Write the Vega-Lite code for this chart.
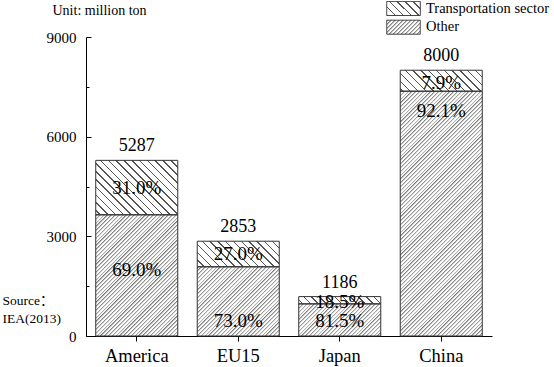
{
"$schema":"https://vega.github.io/schema/vega-lite/v6.json",
"width":406,"height":299,
"autosize":{"type":"none"},
"padding":{"left":86,"top":37,"right":62,"bottom":31},
"background":"white",
"config":{"view":{"stroke":null},"axis":{"grid":false,"labelFont":"Liberation Serif","titleFont":"Liberation Serif"},"legend":{"labelFont":"Liberation Serif"}},
"data":{"values":[
{"country":"America","sector":"Transportation sector","value":1639,"pct":"31.0%","labelValue":4461},
{"country":"America","sector":"Other","value":3648,"pct":"69.0%","labelValue":1978},
{"country":"EU15","sector":"Transportation sector","value":770,"pct":"27.0%","labelValue":2474},
{"country":"EU15","sector":"Other","value":2083,"pct":"73.0%","labelValue":442},
{"country":"Japan","sector":"Transportation sector","value":219,"pct":"18.5%","labelValue":1035},
{"country":"Japan","sector":"Other","value":967,"pct":"81.5%","labelValue":455},
{"country":"China","sector":"Transportation sector","value":632,"pct":"7.9%","labelValue":7622},
{"country":"China","sector":"Other","value":7368,"pct":"92.1%","labelValue":6779}
]},
"transform":[{"stack":"value","groupby":["country"],"sort":[{"field":"sector","order":"ascending"}],"as":["v0","v1"]}],
"encoding":{"x":{"field":"country","type":"nominal","sort":["America","EU15","Japan","China"],"scale":{"paddingInner":0.192,"paddingOuter":0.096},"axis":{"title":null,"labelAngle":0,"labelFont":"Liberation Serif","labelFontSize":18.5,"labelColor":"#000","labelPadding":5,"tickSize":5,"tickColor":"#000","domainColor":"#000","grid":false}}},
"layer":[
{"transform":[{"filter":"datum.sector === 'Transportation sector'"}],
"mark":{"type":"point","shape":"M-1,0H1V1.805H-1Z","size":6724,"filled":true,"opacity":1,"clip":true,
"fill":{"gradient":"linear","x1":0,"y1":1,"x2":1.0485,"y2":0.0537,"stops":[
{"offset":0,"color":"#555"},{"offset":0.01,"color":"#555"},{"offset":0.01,"color":"#fff"},{"offset":0.05,"color":"#fff"},
{"offset":0.05,"color":"#555"},{"offset":0.06,"color":"#555"},{"offset":0.06,"color":"#fff"},{"offset":0.1,"color":"#fff"},
{"offset":0.1,"color":"#555"},{"offset":0.11,"color":"#555"},{"offset":0.11,"color":"#fff"},{"offset":0.15,"color":"#fff"},
{"offset":0.15,"color":"#555"},{"offset":0.16,"color":"#555"},{"offset":0.16,"color":"#fff"},{"offset":0.2,"color":"#fff"},
{"offset":0.2,"color":"#555"},{"offset":0.21,"color":"#555"},{"offset":0.21,"color":"#fff"},{"offset":0.25,"color":"#fff"},
{"offset":0.25,"color":"#555"},{"offset":0.26,"color":"#555"},{"offset":0.26,"color":"#fff"},{"offset":0.3,"color":"#fff"},
{"offset":0.3,"color":"#555"},{"offset":0.31,"color":"#555"},{"offset":0.31,"color":"#fff"},{"offset":0.35,"color":"#fff"},
{"offset":0.35,"color":"#555"},{"offset":0.36,"color":"#555"},{"offset":0.36,"color":"#fff"},{"offset":0.4,"color":"#fff"},
{"offset":0.4,"color":"#555"},{"offset":0.41,"color":"#555"},{"offset":0.41,"color":"#fff"},{"offset":0.45,"color":"#fff"},
{"offset":0.45,"color":"#555"},{"offset":0.46,"color":"#555"},{"offset":0.46,"color":"#fff"},{"offset":0.5,"color":"#fff"},
{"offset":0.5,"color":"#555"},{"offset":0.51,"color":"#555"},{"offset":0.51,"color":"#fff"},{"offset":0.55,"color":"#fff"},
{"offset":0.55,"color":"#555"},{"offset":0.56,"color":"#555"},{"offset":0.56,"color":"#fff"},{"offset":0.6,"color":"#fff"},
{"offset":0.6,"color":"#555"},{"offset":0.61,"color":"#555"},{"offset":0.61,"color":"#fff"},{"offset":0.65,"color":"#fff"},
{"offset":0.65,"color":"#555"},{"offset":0.66,"color":"#555"},{"offset":0.66,"color":"#fff"},{"offset":0.7,"color":"#fff"},
{"offset":0.7,"color":"#555"},{"offset":0.71,"color":"#555"},{"offset":0.71,"color":"#fff"},{"offset":0.75,"color":"#fff"},
{"offset":0.75,"color":"#555"},{"offset":0.76,"color":"#555"},{"offset":0.76,"color":"#fff"},{"offset":0.8,"color":"#fff"},
{"offset":0.8,"color":"#555"},{"offset":0.81,"color":"#555"},{"offset":0.81,"color":"#fff"},{"offset":0.85,"color":"#fff"},
{"offset":0.85,"color":"#555"},{"offset":0.86,"color":"#555"},{"offset":0.86,"color":"#fff"},{"offset":0.9,"color":"#fff"},
{"offset":0.9,"color":"#555"},{"offset":0.91,"color":"#555"},{"offset":0.91,"color":"#fff"},{"offset":0.95,"color":"#fff"},
{"offset":0.95,"color":"#555"},{"offset":0.96,"color":"#555"},{"offset":0.96,"color":"#fff"},{"offset":1,"color":"#fff"}]}},
"encoding":{"y":{"field":"v1","type":"quantitative","scale":{"domain":[0,9000],"nice":false},
"axis":{"orient":"left","values":[1500,4500,7500],"tickSize":-3,"tickColor":"#000","labels":false,"domain":false,"grid":false,"title":"Unit: million ton","titleAngle":0,"titleAlign":"left","titleBaseline":"alphabetic","titleX":-34,"titleY":-22.5,"titleFont":"Liberation Serif","titleFontSize":14,"titleFontWeight":"normal","titleColor":"#000"}}}},
{"transform":[{"filter":"datum.sector === 'Other'"}],
"mark":{"type":"point","shape":"M-1,0H1V7.27H-1Z","size":6724,"filled":true,"opacity":1,"clip":true,
"fill":{"gradient":"linear","x1":0,"y1":0,"x2":0.3261,"y2":1.1854,"stops":[
{"offset":0,"color":"#777"},{"offset":0.006,"color":"#fff"},{"offset":0.01,"color":"#fff"},
{"offset":0.01,"color":"#777"},{"offset":0.016,"color":"#fff"},{"offset":0.02,"color":"#fff"},
{"offset":0.02,"color":"#777"},{"offset":0.026,"color":"#fff"},{"offset":0.03,"color":"#fff"},
{"offset":0.03,"color":"#777"},{"offset":0.036,"color":"#fff"},{"offset":0.04,"color":"#fff"},
{"offset":0.04,"color":"#777"},{"offset":0.046,"color":"#fff"},{"offset":0.05,"color":"#fff"},
{"offset":0.05,"color":"#777"},{"offset":0.056,"color":"#fff"},{"offset":0.06,"color":"#fff"},
{"offset":0.06,"color":"#777"},{"offset":0.066,"color":"#fff"},{"offset":0.07,"color":"#fff"},
{"offset":0.07,"color":"#777"},{"offset":0.076,"color":"#fff"},{"offset":0.08,"color":"#fff"},
{"offset":0.08,"color":"#777"},{"offset":0.086,"color":"#fff"},{"offset":0.09,"color":"#fff"},
{"offset":0.09,"color":"#777"},{"offset":0.096,"color":"#fff"},{"offset":0.1,"color":"#fff"},
{"offset":0.1,"color":"#777"},{"offset":0.106,"color":"#fff"},{"offset":0.11,"color":"#fff"},
{"offset":0.11,"color":"#777"},{"offset":0.116,"color":"#fff"},{"offset":0.12,"color":"#fff"},
{"offset":0.12,"color":"#777"},{"offset":0.126,"color":"#fff"},{"offset":0.13,"color":"#fff"},
{"offset":0.13,"color":"#777"},{"offset":0.136,"color":"#fff"},{"offset":0.14,"color":"#fff"},
{"offset":0.14,"color":"#777"},{"offset":0.146,"color":"#fff"},{"offset":0.15,"color":"#fff"},
{"offset":0.15,"color":"#777"},{"offset":0.156,"color":"#fff"},{"offset":0.16,"color":"#fff"},
{"offset":0.16,"color":"#777"},{"offset":0.166,"color":"#fff"},{"offset":0.17,"color":"#fff"},
{"offset":0.17,"color":"#777"},{"offset":0.176,"color":"#fff"},{"offset":0.18,"color":"#fff"},
{"offset":0.18,"color":"#777"},{"offset":0.186,"color":"#fff"},{"offset":0.19,"color":"#fff"},
{"offset":0.19,"color":"#777"},{"offset":0.196,"color":"#fff"},{"offset":0.2,"color":"#fff"},
{"offset":0.2,"color":"#777"},{"offset":0.206,"color":"#fff"},{"offset":0.21,"color":"#fff"},
{"offset":0.21,"color":"#777"},{"offset":0.216,"color":"#fff"},{"offset":0.22,"color":"#fff"},
{"offset":0.22,"color":"#777"},{"offset":0.226,"color":"#fff"},{"offset":0.23,"color":"#fff"},
{"offset":0.23,"color":"#777"},{"offset":0.236,"color":"#fff"},{"offset":0.24,"color":"#fff"},
{"offset":0.24,"color":"#777"},{"offset":0.246,"color":"#fff"},{"offset":0.25,"color":"#fff"},
{"offset":0.25,"color":"#777"},{"offset":0.256,"color":"#fff"},{"offset":0.26,"color":"#fff"},
{"offset":0.26,"color":"#777"},{"offset":0.266,"color":"#fff"},{"offset":0.27,"color":"#fff"},
{"offset":0.27,"color":"#777"},{"offset":0.276,"color":"#fff"},{"offset":0.28,"color":"#fff"},
{"offset":0.28,"color":"#777"},{"offset":0.286,"color":"#fff"},{"offset":0.29,"color":"#fff"},
{"offset":0.29,"color":"#777"},{"offset":0.296,"color":"#fff"},{"offset":0.3,"color":"#fff"},
{"offset":0.3,"color":"#777"},{"offset":0.306,"color":"#fff"},{"offset":0.31,"color":"#fff"},
{"offset":0.31,"color":"#777"},{"offset":0.316,"color":"#fff"},{"offset":0.32,"color":"#fff"},
{"offset":0.32,"color":"#777"},{"offset":0.326,"color":"#fff"},{"offset":0.33,"color":"#fff"},
{"offset":0.33,"color":"#777"},{"offset":0.336,"color":"#fff"},{"offset":0.34,"color":"#fff"},
{"offset":0.34,"color":"#777"},{"offset":0.346,"color":"#fff"},{"offset":0.35,"color":"#fff"},
{"offset":0.35,"color":"#777"},{"offset":0.356,"color":"#fff"},{"offset":0.36,"color":"#fff"},
{"offset":0.36,"color":"#777"},{"offset":0.366,"color":"#fff"},{"offset":0.37,"color":"#fff"},
{"offset":0.37,"color":"#777"},{"offset":0.376,"color":"#fff"},{"offset":0.38,"color":"#fff"},
{"offset":0.38,"color":"#777"},{"offset":0.386,"color":"#fff"},{"offset":0.39,"color":"#fff"},
{"offset":0.39,"color":"#777"},{"offset":0.396,"color":"#fff"},{"offset":0.4,"color":"#fff"},
{"offset":0.4,"color":"#777"},{"offset":0.406,"color":"#fff"},{"offset":0.41,"color":"#fff"},
{"offset":0.41,"color":"#777"},{"offset":0.416,"color":"#fff"},{"offset":0.42,"color":"#fff"},
{"offset":0.42,"color":"#777"},{"offset":0.426,"color":"#fff"},{"offset":0.43,"color":"#fff"},
{"offset":0.43,"color":"#777"},{"offset":0.436,"color":"#fff"},{"offset":0.44,"color":"#fff"},
{"offset":0.44,"color":"#777"},{"offset":0.446,"color":"#fff"},{"offset":0.45,"color":"#fff"},
{"offset":0.45,"color":"#777"},{"offset":0.456,"color":"#fff"},{"offset":0.46,"color":"#fff"},
{"offset":0.46,"color":"#777"},{"offset":0.466,"color":"#fff"},{"offset":0.47,"color":"#fff"},
{"offset":0.47,"color":"#777"},{"offset":0.476,"color":"#fff"},{"offset":0.48,"color":"#fff"},
{"offset":0.48,"color":"#777"},{"offset":0.486,"color":"#fff"},{"offset":0.49,"color":"#fff"},
{"offset":0.49,"color":"#777"},{"offset":0.496,"color":"#fff"},{"offset":0.5,"color":"#fff"},
{"offset":0.5,"color":"#777"},{"offset":0.506,"color":"#fff"},{"offset":0.51,"color":"#fff"},
{"offset":0.51,"color":"#777"},{"offset":0.516,"color":"#fff"},{"offset":0.52,"color":"#fff"},
{"offset":0.52,"color":"#777"},{"offset":0.526,"color":"#fff"},{"offset":0.53,"color":"#fff"},
{"offset":0.53,"color":"#777"},{"offset":0.536,"color":"#fff"},{"offset":0.54,"color":"#fff"},
{"offset":0.54,"color":"#777"},{"offset":0.546,"color":"#fff"},{"offset":0.55,"color":"#fff"},
{"offset":0.55,"color":"#777"},{"offset":0.556,"color":"#fff"},{"offset":0.56,"color":"#fff"},
{"offset":0.56,"color":"#777"},{"offset":0.566,"color":"#fff"},{"offset":0.57,"color":"#fff"},
{"offset":0.57,"color":"#777"},{"offset":0.576,"color":"#fff"},{"offset":0.58,"color":"#fff"},
{"offset":0.58,"color":"#777"},{"offset":0.586,"color":"#fff"},{"offset":0.59,"color":"#fff"},
{"offset":0.59,"color":"#777"},{"offset":0.596,"color":"#fff"},{"offset":0.6,"color":"#fff"},
{"offset":0.6,"color":"#777"},{"offset":0.606,"color":"#fff"},{"offset":0.61,"color":"#fff"},
{"offset":0.61,"color":"#777"},{"offset":0.616,"color":"#fff"},{"offset":0.62,"color":"#fff"},
{"offset":0.62,"color":"#777"},{"offset":0.626,"color":"#fff"},{"offset":0.63,"color":"#fff"},
{"offset":0.63,"color":"#777"},{"offset":0.636,"color":"#fff"},{"offset":0.64,"color":"#fff"},
{"offset":0.64,"color":"#777"},{"offset":0.646,"color":"#fff"},{"offset":0.65,"color":"#fff"},
{"offset":0.65,"color":"#777"},{"offset":0.656,"color":"#fff"},{"offset":0.66,"color":"#fff"},
{"offset":0.66,"color":"#777"},{"offset":0.666,"color":"#fff"},{"offset":0.67,"color":"#fff"},
{"offset":0.67,"color":"#777"},{"offset":0.676,"color":"#fff"},{"offset":0.68,"color":"#fff"},
{"offset":0.68,"color":"#777"},{"offset":0.686,"color":"#fff"},{"offset":0.69,"color":"#fff"},
{"offset":0.69,"color":"#777"},{"offset":0.696,"color":"#fff"},{"offset":0.7,"color":"#fff"},
{"offset":0.7,"color":"#777"},{"offset":0.706,"color":"#fff"},{"offset":0.71,"color":"#fff"},
{"offset":0.71,"color":"#777"},{"offset":0.716,"color":"#fff"},{"offset":0.72,"color":"#fff"},
{"offset":0.72,"color":"#777"},{"offset":0.726,"color":"#fff"},{"offset":0.73,"color":"#fff"},
{"offset":0.73,"color":"#777"},{"offset":0.736,"color":"#fff"},{"offset":0.74,"color":"#fff"},
{"offset":0.74,"color":"#777"},{"offset":0.746,"color":"#fff"},{"offset":0.75,"color":"#fff"},
{"offset":0.75,"color":"#777"},{"offset":0.756,"color":"#fff"},{"offset":0.76,"color":"#fff"},
{"offset":0.76,"color":"#777"},{"offset":0.766,"color":"#fff"},{"offset":0.77,"color":"#fff"},
{"offset":0.77,"color":"#777"},{"offset":0.776,"color":"#fff"},{"offset":0.78,"color":"#fff"},
{"offset":0.78,"color":"#777"},{"offset":0.786,"color":"#fff"},{"offset":0.79,"color":"#fff"},
{"offset":0.79,"color":"#777"},{"offset":0.796,"color":"#fff"},{"offset":0.8,"color":"#fff"},
{"offset":0.8,"color":"#777"},{"offset":0.806,"color":"#fff"},{"offset":0.81,"color":"#fff"},
{"offset":0.81,"color":"#777"},{"offset":0.816,"color":"#fff"},{"offset":0.82,"color":"#fff"},
{"offset":0.82,"color":"#777"},{"offset":0.826,"color":"#fff"},{"offset":0.83,"color":"#fff"},
{"offset":0.83,"color":"#777"},{"offset":0.836,"color":"#fff"},{"offset":0.84,"color":"#fff"},
{"offset":0.84,"color":"#777"},{"offset":0.846,"color":"#fff"},{"offset":0.85,"color":"#fff"},
{"offset":0.85,"color":"#777"},{"offset":0.856,"color":"#fff"},{"offset":0.86,"color":"#fff"},
{"offset":0.86,"color":"#777"},{"offset":0.866,"color":"#fff"},{"offset":0.87,"color":"#fff"},
{"offset":0.87,"color":"#777"},{"offset":0.876,"color":"#fff"},{"offset":0.88,"color":"#fff"},
{"offset":0.88,"color":"#777"},{"offset":0.886,"color":"#fff"},{"offset":0.89,"color":"#fff"},
{"offset":0.89,"color":"#777"},{"offset":0.896,"color":"#fff"},{"offset":0.9,"color":"#fff"},
{"offset":0.9,"color":"#777"},{"offset":0.906,"color":"#fff"},{"offset":0.91,"color":"#fff"},
{"offset":0.91,"color":"#777"},{"offset":0.916,"color":"#fff"},{"offset":0.92,"color":"#fff"},
{"offset":0.92,"color":"#777"},{"offset":0.926,"color":"#fff"},{"offset":0.93,"color":"#fff"},
{"offset":0.93,"color":"#777"},{"offset":0.936,"color":"#fff"},{"offset":0.94,"color":"#fff"},
{"offset":0.94,"color":"#777"},{"offset":0.946,"color":"#fff"},{"offset":0.95,"color":"#fff"},
{"offset":0.95,"color":"#777"},{"offset":0.956,"color":"#fff"},{"offset":0.96,"color":"#fff"},
{"offset":0.96,"color":"#777"},{"offset":0.966,"color":"#fff"},{"offset":0.97,"color":"#fff"},
{"offset":0.97,"color":"#777"},{"offset":0.976,"color":"#fff"},{"offset":0.98,"color":"#fff"},
{"offset":0.98,"color":"#777"},{"offset":0.986,"color":"#fff"},{"offset":0.99,"color":"#fff"},
{"offset":0.99,"color":"#777"},{"offset":0.996,"color":"#fff"},{"offset":1,"color":"#fff"}]}},
"encoding":{"y":{"field":"v1","type":"quantitative","scale":{"domain":[0,9000],"nice":false},"axis":null}}},
{"mark":{"type":"bar","fill":"transparent","stroke":"#333","strokeWidth":1},
"encoding":{"y":{"field":"v1","type":"quantitative","scale":{"domain":[0,9000],"nice":false},
"axis":{"orient":"left","values":[0,3000,6000,9000],"format":"d","tickSize":-5,"labelPadding":15,"labelFont":"Liberation Serif","labelFontSize":15,"labelColor":"#000","domainColor":"#000","tickColor":"#000","grid":false,"title":["Source：","IEA(2013)"],"titleAngle":0,"titleAlign":"left","titleBaseline":"alphabetic","titleX":-84,"titleY":267,"titleFont":"Liberation Serif, Noto Sans CJK SC","titleFontSize":13.5,"titleFontWeight":"normal","titleColor":"#000","titleLineHeight":18}},
"y2":{"field":"v0"}}},
{"mark":{"type":"text","font":"Liberation Serif","fontSize":19,"color":"#000","baseline":"middle","align":"center"},
"encoding":{"y":{"field":"labelValue","type":"quantitative","scale":{"domain":[0,9000],"nice":false},"axis":null},"text":{"field":"pct","type":"nominal"}}},
{"mark":{"type":"text","font":"Liberation Serif","fontSize":18,"color":"#000","baseline":"alphabetic","align":"center","dy":-9},
"encoding":{"y":{"aggregate":"sum","field":"value","type":"quantitative","scale":{"domain":[0,9000],"nice":false},"axis":null},"text":{"aggregate":"sum","field":"value","type":"quantitative","format":"d"}}},
{"transform":[{"filter":"datum.sector === 'Transportation sector'"}],
"mark":{"type":"point","filled":true,"size":0,"opacity":1,"stroke":"#333","strokeWidth":1,
"fill":{"gradient":"linear","x1":0,"y1":1,"x2":1.2071,"y2":0.497,"stops":[
{"offset":0,"color":"#555"},{"offset":0.033,"color":"#555"},{"offset":0.033,"color":"#fff"},{"offset":0.1667,"color":"#fff"},
{"offset":0.1667,"color":"#555"},{"offset":0.2,"color":"#555"},{"offset":0.2,"color":"#fff"},{"offset":0.3333,"color":"#fff"},
{"offset":0.3333,"color":"#555"},{"offset":0.3663,"color":"#555"},{"offset":0.3663,"color":"#fff"},{"offset":0.5,"color":"#fff"},
{"offset":0.5,"color":"#555"},{"offset":0.533,"color":"#555"},{"offset":0.533,"color":"#fff"},{"offset":0.6667,"color":"#fff"},
{"offset":0.6667,"color":"#555"},{"offset":0.6997,"color":"#555"},{"offset":0.6997,"color":"#fff"},{"offset":0.8333,"color":"#fff"},
{"offset":0.8333,"color":"#555"},{"offset":0.8663,"color":"#555"},{"offset":0.8663,"color":"#fff"},{"offset":1,"color":"#fff"}]}},
"encoding":{"y":{"field":"v1","type":"quantitative","scale":{"domain":[0,9000],"nice":false},"axis":null},
"strokeDash":{"field":"sector","type":"nominal","scale":{"domain":["Transportation sector"],"range":[[1,0]]},
"legend":{"title":null,"orient":"none","legendX":310,"legendY":-36,"padding":0,"symbolType":"M-2.4,-1H2.4V1H-2.4Z","symbolSize":196,"labelOffset":15,"labelFont":"Liberation Serif","labelFontSize":14.5,"labelColor":"#000","symbolStrokeWidth":1,"symbolOpacity":1}}}},
{"transform":[{"filter":"datum.sector === 'Other'"}],
"mark":{"type":"point","filled":true,"size":0,"opacity":1,"stroke":"#333","strokeWidth":1,
"fill":{"gradient":"linear","x1":0,"y1":0,"x2":1.2071,"y2":0.503,"stops":[
{"offset":0,"color":"#777"},{"offset":0.05,"color":"#fff"},{"offset":0.0833,"color":"#fff"},
{"offset":0.0833,"color":"#777"},{"offset":0.1333,"color":"#fff"},{"offset":0.1667,"color":"#fff"},
{"offset":0.1667,"color":"#777"},{"offset":0.2167,"color":"#fff"},{"offset":0.25,"color":"#fff"},
{"offset":0.25,"color":"#777"},{"offset":0.3,"color":"#fff"},{"offset":0.3333,"color":"#fff"},
{"offset":0.3333,"color":"#777"},{"offset":0.3833,"color":"#fff"},{"offset":0.4167,"color":"#fff"},
{"offset":0.4167,"color":"#777"},{"offset":0.4667,"color":"#fff"},{"offset":0.5,"color":"#fff"},
{"offset":0.5,"color":"#777"},{"offset":0.55,"color":"#fff"},{"offset":0.5833,"color":"#fff"},
{"offset":0.5833,"color":"#777"},{"offset":0.6333,"color":"#fff"},{"offset":0.6667,"color":"#fff"},
{"offset":0.6667,"color":"#777"},{"offset":0.7167,"color":"#fff"},{"offset":0.75,"color":"#fff"},
{"offset":0.75,"color":"#777"},{"offset":0.8,"color":"#fff"},{"offset":0.8333,"color":"#fff"},
{"offset":0.8333,"color":"#777"},{"offset":0.8833,"color":"#fff"},{"offset":0.9167,"color":"#fff"},
{"offset":0.9167,"color":"#777"},{"offset":0.9667,"color":"#fff"},{"offset":1,"color":"#fff"}]}},
"encoding":{"y":{"field":"v1","type":"quantitative","scale":{"domain":[0,9000],"nice":false},"axis":null},
"strokeDash":{"field":"sector","type":"nominal","scale":{"domain":["Other"],"range":[[1,0]]},
"legend":{"title":null,"orient":"none","legendX":310,"legendY":-17.3,"padding":0,"symbolType":"M-2.4,-1H2.4V1H-2.4Z","symbolSize":196,"labelOffset":15,"labelFont":"Liberation Serif","labelFontSize":14.5,"labelColor":"#000","symbolStrokeWidth":1,"symbolOpacity":1}}}}
],
"resolve":{"axis":{"y":"independent"},"scale":{"strokeDash":"independent"},"legend":{"strokeDash":"independent"}}
}
